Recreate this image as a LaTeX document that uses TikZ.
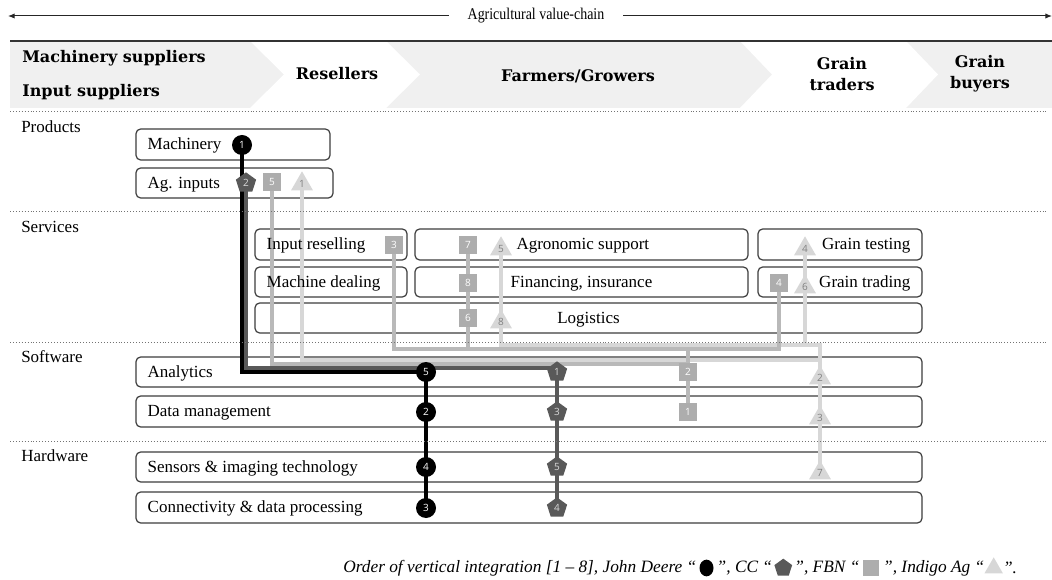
\documentclass[tikz,border=0pt]{standalone}
\usepackage{fontspec}
\setmainfont{Liberation Serif}
\setsansfont{Open Sans}
\newfontfamily\headfont{DejaVu Serif}
\newfontfamily\narrowfont{Liberation Serif}[FakeStretch=0.85]
\usetikzlibrary{shapes.geometric, arrows.meta, positioning, fit}

\definecolor{ccgray}{HTML}{595959}
\definecolor{fbngray}{HTML}{ADADAD}
\definecolor{indgray}{HTML}{D7D7D7}
\definecolor{bandgray}{HTML}{F0F0F0}
\definecolor{boxline}{HTML}{3C3C3C}

\pgfdeclarelayer{back}
\pgfdeclarelayer{wires}
\pgfsetlayers{back,wires,main}

\tikzset{
  box/.style={draw=boxline, line width=0.9pt, rounded corners=3.5pt, inner sep=0pt},
  lbl/.style={inner sep=0pt, font=\fontsize{12.75}{15}\selectfont},
  sec/.style={anchor=west, inner sep=0pt, font=\fontsize{12.75}{15}\selectfont},
  head/.style={inner sep=0pt, align=center, font=\headfont\bfseries\fontsize{12}{16}\selectfont},
  num/.style={inner sep=0pt, font=\sffamily\fontsize{7.5}{7.5}\selectfont},
  jd/.style={num, circle, fill=black, text=white, minimum size=15pt},
  cc/.style={num, regular polygon, regular polygon sides=5, fill=ccgray, text=white!85!black, minimum size=16pt},
  fbn/.style={num, rectangle, fill=fbngray, text=white, minimum size=13pt},
  ind/.style={num, regular polygon, regular polygon sides=3, fill=indgray, text=black!50, minimum size=19pt},
  jdline/.style={draw=black, line width=3pt},
  ccline/.style={draw=ccgray, line width=3pt},
  fbnline/.style={draw=fbngray!85!white, line width=3pt},
  indline/.style={draw=indgray, line width=3pt},
  sep/.style={draw=black!55, line width=0.6pt, dash pattern=on 0.6pt off 1.6pt},
  capt/.style={inner sep=0pt, font=\itshape\fontsize{13}{15}\selectfont},
}

\begin{document}
\begin{tikzpicture}[x=0.75pt, y=-0.75pt]
\useasboundingbox (0,0) rectangle (1052,580);

% value chain arrow
\node[inner xsep=14pt, inner ysep=0pt, font=\narrowfont\fontsize{12.3}{14}\selectfont] (vchain) at (536,16) {Agricultural value-chain};
\coordinate (vcleft) at (8,16);
\coordinate (vcright) at (1052,16);
\draw[-{Latex[length=5pt,width=4pt]}, black!85, line width=0.75pt] (vchain.west) -- (vcleft);
\draw[-{Latex[length=5pt,width=4pt]}, black!85, line width=0.75pt] (vchain.east) -- (vcright);

% header band
\fill[bandgray] (10,41) rectangle (1052,108);
\fill[white] (250,41) -- (386,41) -- (420,74.5) -- (386,108) -- (250,108) -- (284,74.5) -- cycle;
\fill[white] (740,41) -- (906,41) -- (938,74.5) -- (906,108) -- (740,108) -- (772,74.5) -- cycle;
\draw[black!80, line width=1.5pt] (10,41) -- (1052,41);

\node[head, anchor=west] (msup) at (22,58) {Machinery suppliers};
\node[head, anchor=west] (isup) at (22,92) {Input suppliers};
\node[head] (resl) at (337,74) {Resellers};
\node[head] (farm) at (578,76) {Farmers/Growers};
\node[head] (gtrd) at (842,74) {Grain\\traders};
\node[head] (gbuy) at (980,74) {Grain\\buyers};

% sections
\draw[sep] (10,111) -- (1048,111);
\draw[sep] (10,211) -- (1048,211);
\draw[sep] (10,342) -- (1048,342);
\draw[sep] (10,441) -- (1048,441);

\node[sec] (prod) at (21,127) {Products};
\node[sec] (serv) at (21,227) {Services};
\node[sec] (soft) at (21,357) {Software};
\node[sec] (hard) at (21,456) {Hardware};

% boxes
\begin{pgfonlayer}{back}
\node[box, fit={(136,129) (330,160)}] (mach) {};
\node[box, fit={(136,168) (333,198)}] (aginp) {};
\node[box, fit={(255,229) (407,260)}] (inres) {};
\node[box, fit={(415,229) (748,260)}] (agron) {};
\node[box, fit={(758,229) (922,260)}] (gtest) {};
\node[box, fit={(255,267) (407,297)}] (mdeal) {};
\node[box, fit={(415,267) (748,297)}] (finan) {};
\node[box, fit={(758,267) (922,297)}] (gtrad) {};
\node[box, fit={(255,303) (922,333)}] (logis) {};
\node[box, fit={(136,357) (922,387)}] (analy) {};
\node[box, fit={(136,396) (922,427)}] (datam) {};
\node[box, fit={(136,452) (922,482)}] (sensr) {};
\node[box, fit={(136,492) (922,523)}] (conn) {};
\end{pgfonlayer}

\node[lbl, right=9pt of mach.west, yshift=-1pt] (machtx) {Machinery};
\node[lbl, right=9pt of aginp.west, yshift=-1pt] (aginptx) {Ag. inputs};
\node[lbl, right=9pt of inres.west, yshift=-1pt] (inrestx) {Input reselling};
\node[lbl, yshift=-1pt] (agrontx) at ([xshift=1pt]agron.center) {Agronomic support};
\node[lbl, left=9pt of gtest.east, yshift=-1pt] (gtesttx) {Grain testing};
\node[lbl, right=9pt of mdeal.west, yshift=-1pt] (mdealtx) {Machine dealing};
\node[lbl, yshift=-1pt] (finantx) at (finan.center) {Financing, insurance};
\node[lbl, left=9pt of gtrad.east, yshift=-1pt] (gtradtx) {Grain trading};
\node[lbl, yshift=-1pt] (logistx) at (logis.center) {Logistics};
\node[lbl, right=9pt of analy.west, yshift=-1pt] (analytx) {Analytics};
\node[lbl, right=9pt of datam.west, yshift=-1pt] (datamtx) {Data management};
\node[lbl, right=9pt of sensr.west, yshift=-1pt] (sensrtx) {Sensors \& imaging technology};
\node[lbl, right=9pt of conn.west, yshift=-1pt] (conntx) {Connectivity \& data processing};

% John Deere
\node[jd] (jd1) at (242,145) {1};
\node[jd] (jd5) at (426,372) {5};
\node[jd] (jd2) at (426,412) {2};
\node[jd] (jd4) at (426,467) {4};
\node[jd] (jd3) at (426,508) {3};
% CC
\node[cc] (cc2) at (246,183) {2};
\node[cc] (cc1) at (557,372) {1};
\node[cc] (cc3) at (557,412) {3};
\node[cc] (cc5) at (557,467) {5};
\node[cc] (cc4) at (557,508) {4};
% FBN
\node[fbn] (fbn5) at (272,182) {5};
\node[fbn] (fbn3) at (394,245) {3};
\node[fbn] (fbn7) at (468,245) {7};
\node[fbn] (fbn8) at (468,283) {8};
\node[fbn] (fbn6) at (468,318) {6};
\node[fbn] (fbn4) at (779,283) {4};
\node[fbn] (fbn2) at (688,372) {2};
\node[fbn] (fbn1) at (688,412) {1};
% Indigo Ag
\node[ind] (ind1) at (302,184) {1};
\node[ind] (ind5) at (501,249) {5};
\node[ind] (ind8) at (501,322) {8};
\node[ind] (ind4) at (805,249) {4};
\node[ind] (ind6) at (805,287) {6};
\node[ind] (ind2) at (820,378) {2};
\node[ind] (ind3) at (820,418) {3};
\node[ind] (ind7) at (820,473) {7};

% integration paths
\coordinate (fbnbus) at (688,349);
\coordinate (indbus) at (820,345);
\begin{pgfonlayer}{wires}
\draw[indline] (ind1.center) |- ([yshift=13.5pt]ind2.center) -- (ind2.center);
\draw[indline] (ind5.center) -- (ind8.center) |- (indbus) -- (ind2.center) -- (ind3.center) -- (ind7.center);
\draw[indline] (ind4.center) -- (ind6.center) -- (ind6 |- indbus);
\draw[fbnline] (fbn5.center) |- ([yshift=6pt]fbn2.center) -- (fbn2.center);
\draw[fbnline] (fbn3.center) |- (fbnbus) -- (fbn2.center) -- (fbn1.center);
\draw[fbnline] (fbn7.center) -- (fbn8.center) -- (fbn6.center) -- (fbn6 |- fbnbus);
\draw[fbnline] (fbn4.center) |- (fbnbus);
\draw[ccline] (cc2.center) |- ([yshift=3pt]cc1.center) -- (cc1.center) -- (cc3.center) -- (cc5.center) -- (cc4.center);
\draw[jdline] (jd1.center) |- (jd5.center) -- (jd2.center) -- (jd4.center) -- (jd3.center);
\end{pgfonlayer}

% caption
\node[capt, anchor=west] (capa) at (343,568) {Order of vertical integration [1 – 8], John Deere “};
\node[ellipse, fill=black, minimum width=10.5pt, minimum height=12.5pt, inner sep=0pt, right=2pt of capa] (keyjd) {};
\node[capt, right=2pt of keyjd] (capb) {”, CC “};
\node[regular polygon, regular polygon sides=5, fill=ccgray, minimum size=14pt, inner sep=0pt, right=2pt of capb] (keycc) {};
\node[capt, right=2pt of keycc] (capc) {”, FBN “};
\node[rectangle, fill=fbngray, minimum size=12pt, inner sep=0pt, right=2.5pt of capc] (keyfbn) {};
\node[capt, right=2.5pt of keyfbn] (capd) {”, Indigo Ag “};
\node[regular polygon, regular polygon sides=3, fill=indgray, minimum size=16pt, inner sep=0pt, right=2pt of capd] (keyind) {};
\node[capt, right=2pt of keyind] (cape) {”.};
\end{tikzpicture}
\end{document}
